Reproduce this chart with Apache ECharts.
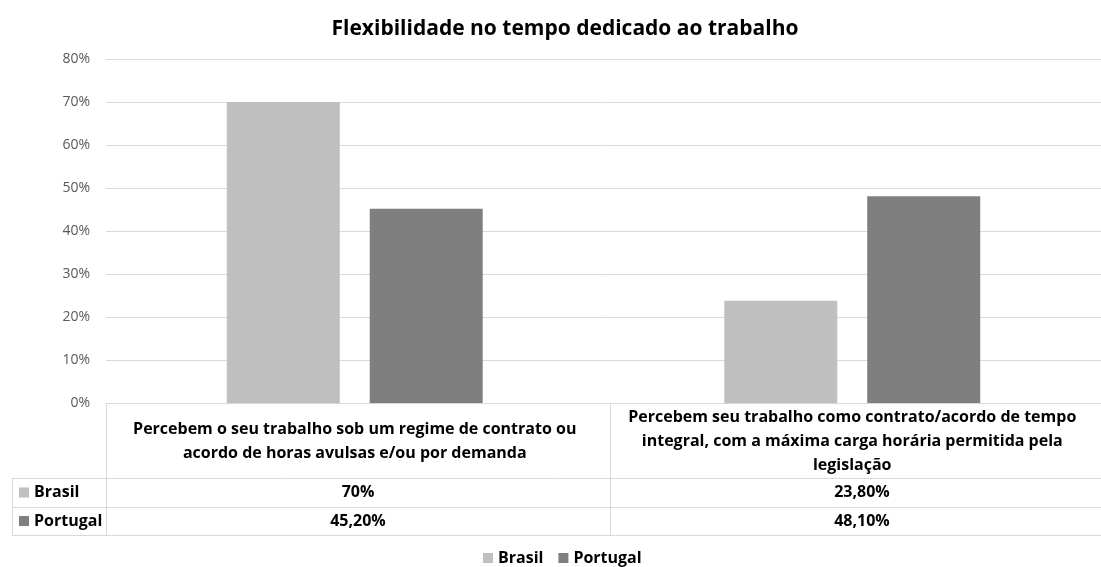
<!DOCTYPE html>
<html>
<head>
<meta charset="utf-8">
<script src="https://cdn.jsdelivr.net/npm/echarts@6/dist/echarts.min.js"></script>
<style>
	html, body { margin: 0; padding: 0; background: #fff; }
	#main { width: 1101px; height: 567px; }
</style>
</head>
<body>
<div id="main"></div>
<script>
var categories = [
	'Percebem o seu trabalho sob um regime de contrato ou\nacordo de horas avulsas e/ou por demanda',
	'Percebem seu trabalho como contrato/acordo de tempo\nintegral, com a máxima carga horária permitida pela\nlegislação'
];
var seriesNames = ['Brasil', 'Portugal'];
var brasil = [70, 23.8];
var portugal = [45.2, 48.1];
var yTicks = [0, 10, 20, 30, 40, 50, 60, 70, 80];

var colors = ['#bfbfbf', '#7f7f7f'];
var font = '"Open Sans", "Noto Sans", sans-serif';

// grid geometry (px)
var gLeft = 106, gTop = 59, gWidth = 1008, gHeight = 344;
var catW = gWidth / categories.length;
var lineColor = '#d9d9d9';

function fmt(v) {
	if (Number.isInteger(v)) return v + '%';
	return v.toFixed(2).replace('.', ',') + '%';
}

var myChart = echarts.init(document.getElementById('main'));

// tabela de dados sob o eixo
var tableTop = gTop + gHeight; // 403
var rowY = [478, 507, 535];
var graphics = [];
function hline(x1, x2, y) {
	graphics.push({ type: 'line', shape: { x1: x1, y1: y + 0.5, x2: x2, y2: y + 0.5 }, style: { stroke: lineColor, lineWidth: 1 } });
}
function vline(x, y1, y2) {
	graphics.push({ type: 'line', shape: { x1: x + 0.5, y1: y1, x2: x + 0.5, y2: y2 }, style: { stroke: lineColor, lineWidth: 1 } });
}
for (var r = 0; r < rowY.length; r++) hline(12, 1101, rowY[r]);
vline(12, rowY[0], rowY[2]);
for (var c = 0; c <= categories.length; c++) vline(gLeft + catW * c, tableTop, rowY[2]);

var rows = [brasil, portugal];
for (var s = 0; s < seriesNames.length; s++) {
	var cy = (rowY[s] + rowY[s + 1]) / 2;
	graphics.push({ type: 'rect', shape: { x: 19, y: cy - 5, width: 10, height: 10 }, style: { fill: colors[s] } });
	graphics.push({ type: 'text', x: 34, y: cy, style: { text: seriesNames[s], font: 'bold 16px ' + font, fill: '#000', textVerticalAlign: 'middle' } });
	for (var i = 0; i < categories.length; i++) {
		graphics.push({ type: 'text', x: gLeft + catW * (i + 0.5), y: cy, style: { text: fmt(rows[s][i]), font: 'bold 16px ' + font, fill: '#000', textAlign: 'center', textVerticalAlign: 'middle' } });
	}
}

var option = {
	animation: false,
	textStyle: { fontFamily: font },
	title: {
		text: 'Flexibilidade no tempo dedicado ao trabalho',
		left: 560, textAlign: 'center', top: 14,
		textStyle: { fontSize: 21, fontWeight: 'bold', color: '#000', fontFamily: font }
	},
	legend: {
		data: seriesNames,
		left: 483, top: 550,
		icon: 'rect', itemWidth: 10, itemHeight: 10, itemGap: 15, padding: 0,
		textStyle: { fontSize: 16, fontWeight: 'bold', color: '#000', fontFamily: font }
	},
	grid: { left: gLeft, top: gTop, width: gWidth, height: gHeight, containLabel: false },
	xAxis: {
		type: 'category',
		data: categories,
		axisLine: { lineStyle: { color: lineColor } },
		axisTick: { show: false },
		axisLabel: {
			interval: 0, margin: 38, verticalAlign: 'middle', lineHeight: 24,
			fontSize: 16, fontWeight: 'bold', color: '#000', fontFamily: font
		}
	},
	yAxis: {
		type: 'value',
		min: yTicks[0], max: yTicks[yTicks.length - 1], interval: 10,
		axisLine: { show: false },
		axisTick: { show: false },
		splitLine: { lineStyle: { color: lineColor } },
		axisLabel: { formatter: '{value}%', margin: 16, fontSize: 14, color: '#595959', fontFamily: font }
	},
	series: [{
		name: seriesNames[0], type: 'bar', data: brasil,
		barWidth: 113, barGap: '26.5%',
		itemStyle: { color: colors[0] }
	}, {
		name: seriesNames[1], type: 'bar', data: portugal,
		barWidth: 113,
		itemStyle: { color: colors[1] }
	}],
	graphic: graphics
};
myChart.setOption(option);
</script>
</body>
</html>
